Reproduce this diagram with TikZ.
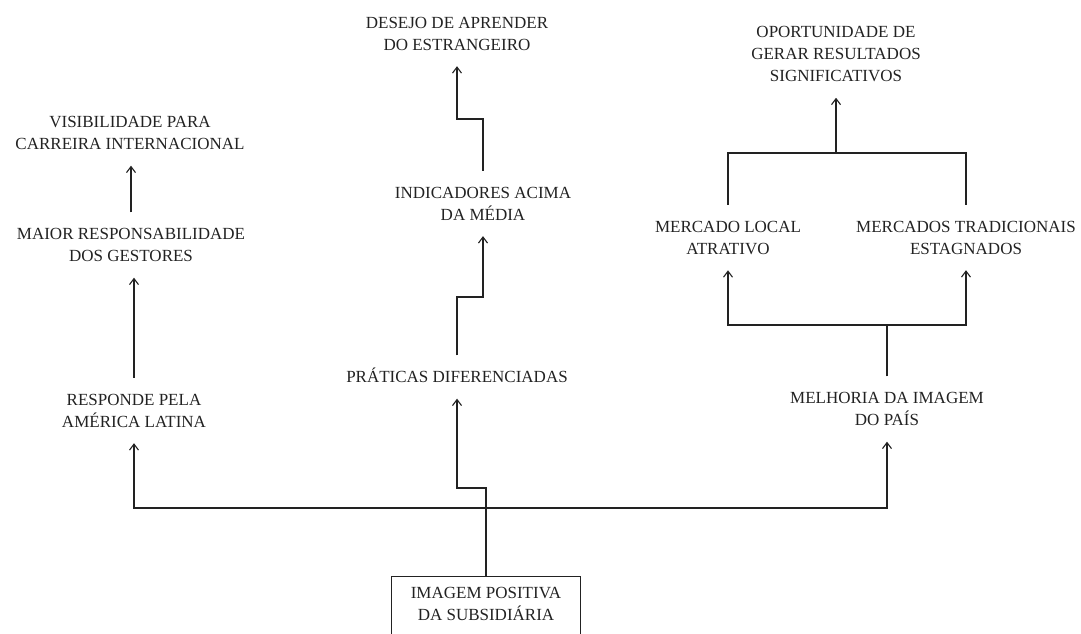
\documentclass[tikz,border=0pt]{standalone}
\usepackage{fontspec}
\setmainfont{Liberation Serif}
\usetikzlibrary{arrows.meta,calc}
\definecolor{ink}{HTML}{222222}
\begin{document}
\begin{tikzpicture}[x=1pt,y=-1pt,
  lbl/.style={align=center, font=\fontsize{17}{22}\selectfont, text=ink,
              inner sep=0pt, outer xsep=0pt, outer ysep=16pt},
  link/.style={draw=ink, line width=1.5pt},
  arr/.style={link, -{Straight Barb[length=6pt,width=9pt,line width=1.1pt]}},
  boxline/.style={draw=ink, line width=1.3pt}
]
\useasboundingbox (0,0) rectangle (1081,633);

% left column
\node[lbl] (vis)   at (130,133)   {VISIBILIDADE PARA\\CARREIRA INTERNACIONAL};
\node[lbl] (maior) at (131,245)   {MAIOR RESPONSABILIDADE\\DOS GESTORES};
\node[lbl] (resp)  at (134,410.5) {RESPONDE PELA\\AMÉRICA LATINA};

% middle column
\node[lbl] (des)   at (457,33.5)  {DESEJO DE APRENDER\\DO ESTRANGEIRO};
\node[lbl] (ind)   at (483,203.5) {INDICADORES ACIMA\\DA MÉDIA};
\node[lbl, text height=11.3pt, text depth=0pt] (prat) at (457,377) {PRÁTICAS DIFERENCIADAS};

% right column
\node[lbl] (opo)   at (836,54)    {OPORTUNIDADE DE\\GERAR RESULTADOS\\SIGNIFICATIVOS};
\node[lbl] (mloc)  at (728,237.5) {MERCADO LOCAL\\ATRATIVO};
\node[lbl] (mtrad) at (966,237.5) {MERCADOS TRADICIONAIS\\ESTAGNADOS};
\node[lbl] (melh)  at (887,409)   {MELHORIA DA IMAGEM\\DO PAÍS};

% root box, open at the bottom edge of the page
\node[align=center, font=\fontsize{17}{22}\selectfont, text=ink,
      minimum width=188pt, minimum height=53pt, inner sep=0pt]
      (img) at (486,603.5) {IMAGEM POSITIVA\\DA SUBSIDIÁRIA};
\draw[boxline] ($(img.south west)+(0,12)$) -- (img.north west)
               -- (img.north east) -- ($(img.south east)+(0,12)$);

% routing rows
\coordinate (bus)  at (0,508);
\coordinate (jogA) at (0,488);
\coordinate (jogB) at (0,297);
\coordinate (jogC) at (0,119);
\coordinate (busR) at (0,325);
\coordinate (busT) at (0,153);

% from the root
\draw[arr] (img.north) -- (img.north |- bus) -| (resp.south);
\draw[arr] (img.north |- bus) -| (melh.south);
\draw[arr] (img.north) -- (img.north |- jogA) -| (prat.south);

% left chain
\draw[arr] (resp.north) -- (resp.north |- maior.south);
\draw[arr] (maior.north) -- (maior.north |- vis.south);

% middle chain
\draw[arr] (prat.north) -- (prat.north |- jogB) -| (ind.south);
\draw[arr] (ind.north) -- (ind.north |- jogC) -| (des.south);

% right chain
\draw[arr] (melh.north) -- (melh.north |- busR) -| (mloc.south);
\draw[arr] (melh.north |- busR) -| (mtrad.south);
\draw[arr] (mloc.north) -- (mloc.north |- busT) -| (opo.south);
\draw[link] (mtrad.north) |- (opo.south |- busT);
\end{tikzpicture}
\end{document}
